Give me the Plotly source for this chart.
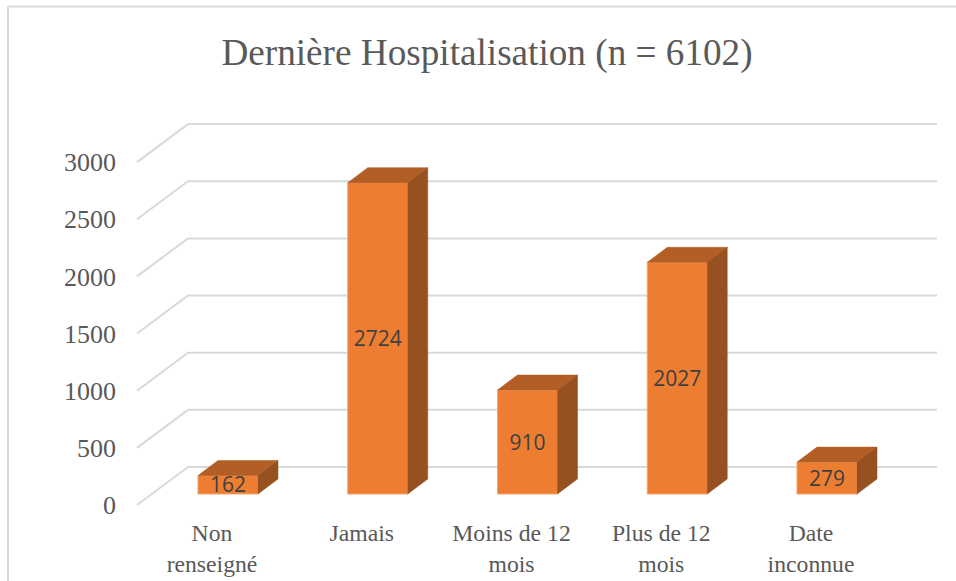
import plotly.graph_objects as go

categories = ["Non<br>renseigné", "Jamais", "Moins de 12<br>mois", "Plus de 12<br>mois", "Date<br>inconnue"]
values = [162, 2724, 910, 2027, 279]
y_ticks = [0, 500, 1000, 1500, 2000, 2500, 3000]
title_text = "Dernière Hospitalisation (n = 6102)"

W, H = 956, 581
PLOT_L, PLOT_B = 124, 73          # margins
X0_PX, X_STEP = 228.0, 149.75     # first bar centre, category spacing (px)
Y0_PX, Y_SCALE = 494.0, 0.1143    # value 0 of the bar plane, px per unit

BAR_W = 60 / X_STEP
DEPTH_X, DEPTH_Y = 20 / X_STEP, 15 / Y_SCALE
FLOOR_FRONT_X, FLOOR_BACK_X, FLOOR_RIGHT_X = (137 - X0_PX) / X_STEP, (188 - X0_PX) / X_STEP, (937 - X0_PX) / X_STEP
FLOOR_FRONT_Y, FLOOR_BACK_Y = -11 / Y_SCALE, 27 / Y_SCALE
LABEL_SHIFT = -16 / X_STEP
TEXT_DROP = 2.5 / Y_SCALE

FRONT, TOP, SIDE, EDGE = "#ED7D31", "#B35E24", "#975020", "#F2A46F"
GRID, TXT, LBL = "#D9D9D9", "#595959", "#404040"
SERIF = "Liberation Serif, Times New Roman, serif"

xs = list(range(len(values)))
fig = go.Figure()

# front faces
fig.add_trace(go.Bar(x=xs, y=values, width=BAR_W, marker=dict(color=FRONT, line=dict(color=EDGE, width=1)), hoverinfo="skip"))

# top and side faces
for i, v in zip(xs, values):
    l, r = i - BAR_W / 2, i + BAR_W / 2
    fig.add_trace(go.Scatter(x=[l, r, r + DEPTH_X, l + DEPTH_X, l], y=[v, v, v + DEPTH_Y, v + DEPTH_Y, v],
                             mode="lines", fill="toself", fillcolor=TOP, line=dict(color=TOP, width=0.5), hoverinfo="skip"))
    fig.add_trace(go.Scatter(x=[r, r + DEPTH_X, r + DEPTH_X, r, r], y=[0, DEPTH_Y, v + DEPTH_Y, v, 0],
                             mode="lines", fill="toself", fillcolor=SIDE, line=dict(color=SIDE, width=0.5), hoverinfo="skip"))

# data labels
fig.add_trace(go.Scatter(x=xs, y=[v / 2 - TEXT_DROP for v in values], text=[str(v) for v in values], mode="text",
                         textposition="middle center", textfont=dict(family="Open Sans, Noto Sans, sans-serif", size=21, color=LBL),
                         hoverinfo="skip"))

# wall and floor lines, behind the bars
shapes = []
for t in y_ticks:
    for (x1, y1, x2, y2) in [(FLOOR_FRONT_X, t + FLOOR_FRONT_Y, FLOOR_BACK_X, t + FLOOR_BACK_Y),
                             (FLOOR_BACK_X, t + FLOOR_BACK_Y, FLOOR_RIGHT_X, t + FLOOR_BACK_Y)]:
        shapes.append(dict(type="line", xref="x", yref="y", x0=x1, y0=y1, x1=x2, y1=y2, layer="below",
                           line=dict(color=GRID, width=2)))

# chart frame (left and top only are visible in the picture)
plot_w, plot_h = W - PLOT_L, H - PLOT_B
fx = lambda p: (p - PLOT_L) / plot_w
fy = lambda p: (H - PLOT_B - p) / plot_h
shapes.append(dict(type="line", xref="paper", yref="paper", x0=fx(8), x1=fx(8), y0=fy(6.5), y1=fy(H), line=dict(color=GRID, width=2)))
shapes.append(dict(type="line", xref="paper", yref="paper", x0=fx(8), x1=fx(W), y0=fy(6.5), y1=fy(6.5), line=dict(color=GRID, width=2)))

fig.update_layout(
    width=W, height=H, autosize=False, showlegend=False,
    margin=dict(l=PLOT_L, r=0, t=0, b=PLOT_B, pad=0),
    paper_bgcolor="white", plot_bgcolor="rgba(0,0,0,0)", shapes=shapes,
    title=dict(text=title_text, x=487 / W, xanchor="center", y=1 - 52 / H, yanchor="middle", xref="container", yref="container",
               font=dict(family=SERIF, size=37.2, color=TXT)),
    xaxis=dict(range=[(PLOT_L - X0_PX) / X_STEP, (W - X0_PX) / X_STEP], tickmode="array",
               tickvals=[i + LABEL_SHIFT for i in xs], ticktext=categories, showgrid=False, zeroline=False, showline=False,
               ticks="", tickangle=0, ticklabelstandoff=8, tickfont=dict(family=SERIF, size=23.7, color=TXT)),
    yaxis=dict(range=[-(H - PLOT_B - Y0_PX) / Y_SCALE, Y0_PX / Y_SCALE], tickmode="array",
               tickvals=[t + FLOOR_FRONT_Y for t in y_ticks], ticktext=[str(t) for t in y_ticks],
               showgrid=False, zeroline=False, showline=False, ticks="", ticklabelstandoff=7,
               tickfont=dict(family=SERIF, size=26, color=TXT)),
)

fig.write_html("out.html", config={"displayModeBar": False},
               post_script="document.body.style.margin='0';document.documentElement.style.overflow='hidden';")
